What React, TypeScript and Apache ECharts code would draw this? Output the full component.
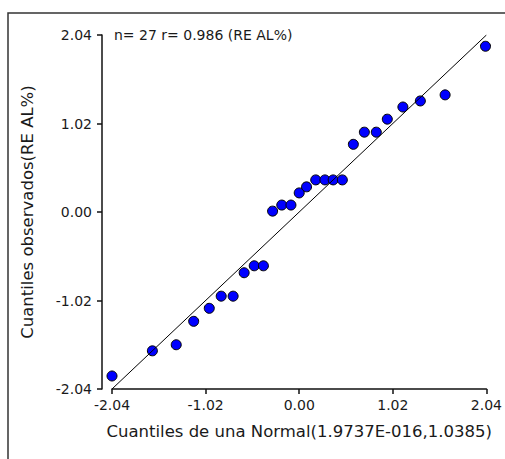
import React, { useEffect, useRef } from "react";
import * as echarts from "echarts";

const normalQuantiles = [
  -2.04, -1.6, -1.34, -1.15, -0.98, -0.85, -0.72, -0.6, -0.49, -0.39, -0.29, -0.19, -0.09, 0.0,
  0.08, 0.18, 0.28, 0.37, 0.47, 0.59, 0.71, 0.84, 0.96, 1.13, 1.32, 1.59, 2.03,
];
const observedQuantiles = [
  -1.89, -1.6, -1.53, -1.26, -1.11, -0.97, -0.97, -0.7, -0.62, -0.62, 0.01, 0.08, 0.08, 0.22,
  0.29, 0.37, 0.37, 0.37, 0.37, 0.78, 0.92, 0.92, 1.07, 1.21, 1.28, 1.35, 1.91,
];
const refLine = [-2.04, 2.04];
const tickValues = [-2.04, -1.02, 0.0, 1.02, 2.04];
const annotation = "n= 27 r= 0.986 (RE AL%)";
const xName = "Cuantiles de una Normal(1.9737E-016,1.0385)";
const yName = "Cuantiles observados(RE AL%)";

const FONT = "DejaVu Sans";
const TEXT = "#1a1a1a";

export default function App() {
  const ref = useRef<HTMLDivElement>(null);
  useEffect(() => {
    if (!ref.current) return;
    const chart = echarts.init(ref.current, null, { renderer: "svg" });
    const axisCommon = {
      type: "value",
      min: tickValues[0],
      max: tickValues[tickValues.length - 1],
      interval: 1.02,
      splitLine: { show: false },
      axisLine: { show: true, onZero: false, lineStyle: { color: "#111", width: 1.5 } },
      axisTick: { show: true, inside: false, length: 5, lineStyle: { color: "#111", width: 1.5 } },
      axisLabel: {
        color: TEXT,
        fontFamily: FONT,
        fontSize: 14,
        formatter: (v: number) => v.toFixed(2),
      },
      nameTextStyle: { color: TEXT, fontFamily: FONT, fontSize: 16.5 },
      nameLocation: "middle",
    };
    chart.setOption({
      animation: false,
      backgroundColor: "#fff",
      grid: { left: 112, right: 18, top: 35, bottom: 70 },
      xAxis: {
        ...axisCommon,
        name: xName,
        nameGap: 34,
        axisLabel: { ...axisCommon.axisLabel, margin: 9 },
      },
      yAxis: {
        ...axisCommon,
        name: yName,
        nameGap: 66,
        offset: 10,
        axisLabel: { ...axisCommon.axisLabel, margin: 10 },
      },
      graphic: [
        {
          type: "rect",
          z: -10,
          shape: { x: 8, y: 13, width: 700, height: 700 },
          style: { fill: "none", stroke: "#333", lineWidth: 1.5 },
        },
        {
          type: "text",
          x: 114,
          y: 35,
          style: {
            text: annotation,
            fontFamily: FONT,
            fontSize: 14,
            fill: TEXT,
            verticalAlign: "middle",
          },
        },
      ],
      series: [
        {
          type: "line",
          data: refLine.map((v) => [v, v]),
          symbol: "none",
          lineStyle: { color: "#000", width: 1 },
          silent: true,
        },
        {
          type: "scatter",
          data: normalQuantiles.map((x, i) => [x, observedQuantiles[i]]),
          symbolSize: 10,
          itemStyle: { color: "#0000ff", borderColor: "#000", borderWidth: 1, opacity: 1 },
        },
      ],
    });
    return () => chart.dispose();
  }, []);
  return (
    <div
      ref={ref}
      style={{ position: "absolute", left: 0, top: 0, width: 505, height: 459 }}
    />
  );
}
